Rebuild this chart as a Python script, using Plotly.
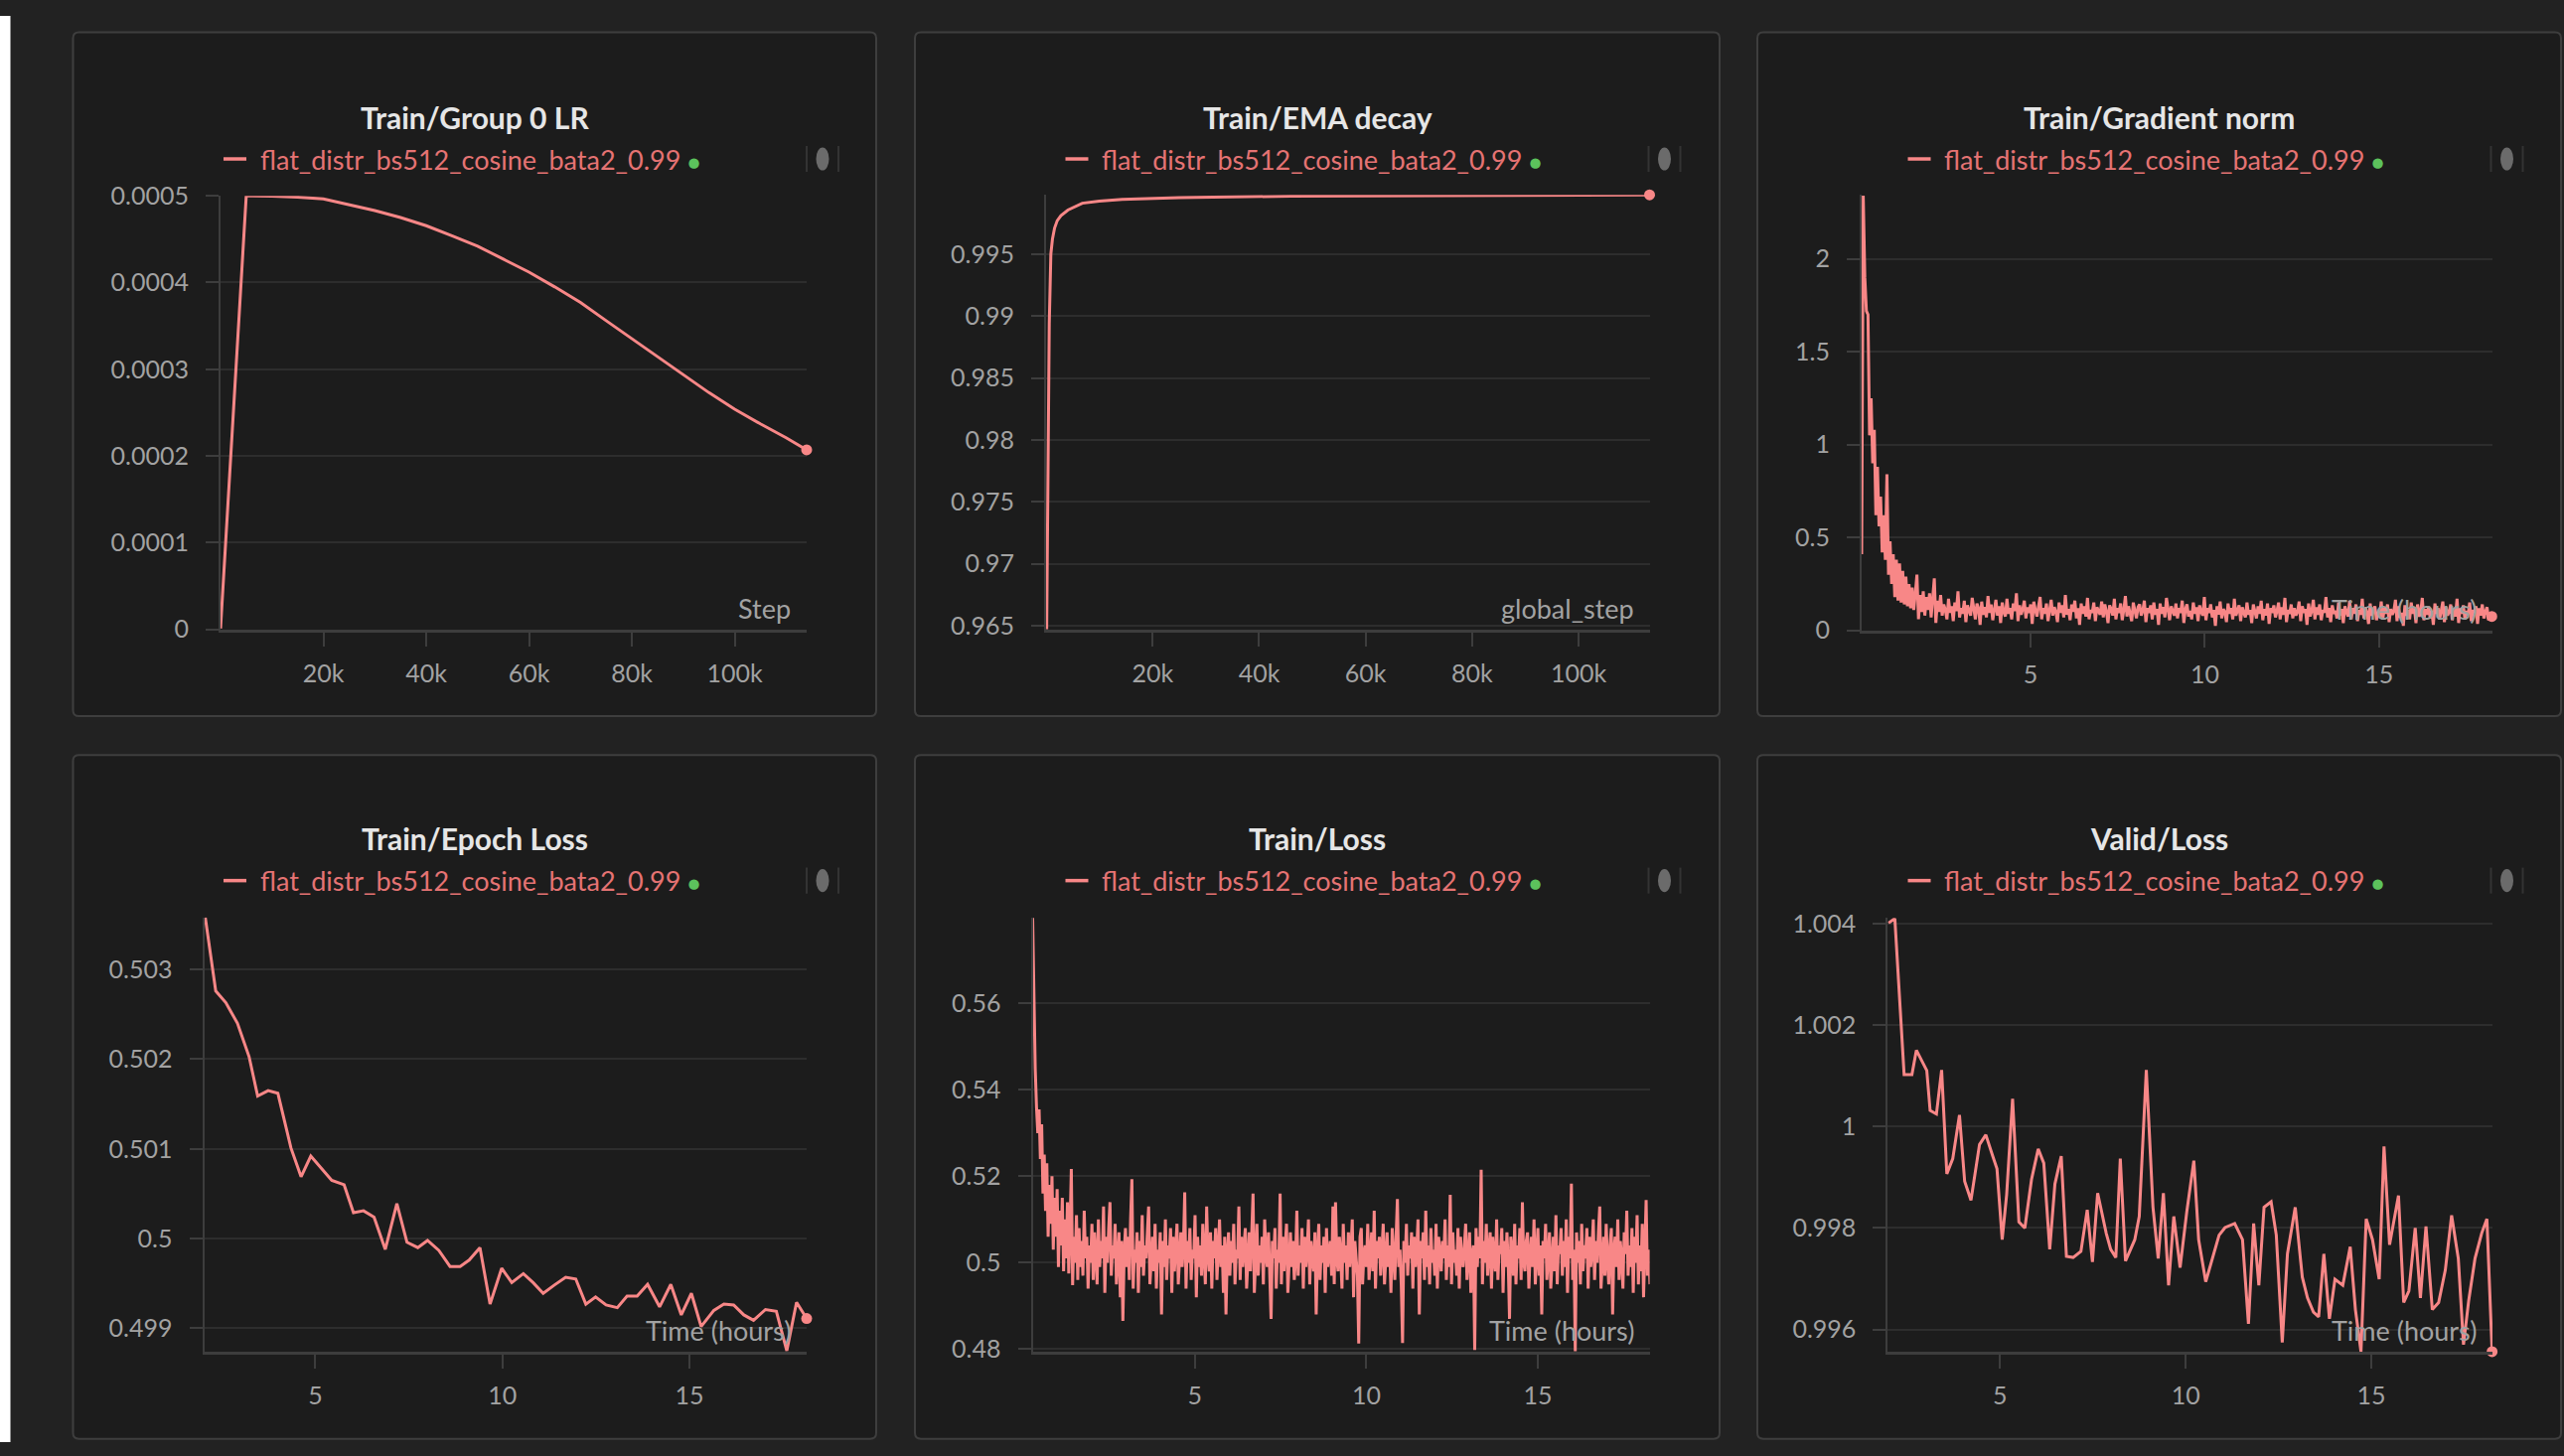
import numpy as np
import plotly.graph_objects as go

W, H = 2581, 1466
FONT = "Lato"

RUN_NAME = "flat_distr_bs512_cosine_bata2_0.99"
TITLES = ["Train/Group 0 LR", "Train/EMA decay", "Train/Gradient norm",
          "Train/Epoch Loss", "Train/Loss", "Valid/Loss"]
XTITLES = ["Step", "global_step", "Time (hours)", "Time (hours)", "Time (hours)", "Time (hours)"]

# ---------------- data ----------------
lr_step = [0, 5000, 10000, 15000, 20000, 25000, 30000, 35000, 40000, 45000, 50000, 55000,
           60000, 65000, 70000, 75000, 80000, 85000, 90000, 95000, 100000, 105000, 110000, 114000]
lr_value = [0.000001, 0.0005, 0.0004995, 0.0004985, 0.0004965, 0.000490, 0.000483, 0.000475,
            0.0004655, 0.000454, 0.000442, 0.000427, 0.000412, 0.000395, 0.000377, 0.000356,
            0.000335, 0.000314, 0.000293, 0.000273, 0.000254, 0.000237, 0.000221, 0.000207]

ema_step = [120, 400, 600, 900, 1200, 1600, 2100, 2800, 4100, 6800, 10000, 14300, 25000, 46000, 78500, 113300]
ema_value = [0.9647, 0.9782, 0.9894, 0.9950, 0.9962, 0.9971, 0.9977, 0.9981, 0.99855, 0.9991,
             0.99928, 0.99941, 0.99956, 0.99967, 0.99971, 0.99978]

# gradient norm, in units of 0.001, evenly logged between the start and end hours
grad_hours_start, grad_hours_end = 0.15, 18.24
grad_norm_milli = [
    410, 2340, 1900, 1720, 1700, 1050, 1250, 900, 1080, 620,
    880, 560, 720, 420, 620, 380, 840, 300, 480, 250,
    410, 180, 380, 160, 360, 150, 320, 140, 290, 130,
    250, 120, 230, 110, 200, 300, 60, 190, 100, 210,
    80, 180, 110, 200, 70, 170, 280, 40, 160, 100,
    190, 80, 140, 110, 60, 170, 95, 130, 50, 150, 105, 210, 70, 120,
    90, 160, 45, 135, 110, 80, 175, 100, 60, 145, 120, 30, 155, 85,
    125, 70, 185, 95, 140, 55, 115, 165, 80, 130, 40, 150, 100, 75,
    170, 90, 120, 60, 145, 105, 200, 50, 135, 85, 115, 160, 65, 125,
    95, 140, 35, 155, 110, 75, 130, 180, 60, 120, 90, 145, 50, 105,
    165, 80, 125, 100, 45, 150, 95, 135, 70, 190, 85, 115, 55, 140,
    100, 160, 65, 120, 30, 145, 90, 130, 75, 175, 60, 110, 95, 150,
    50, 125, 105, 85, 155, 70, 140, 100, 40, 135, 115, 80, 170, 60,
    120, 95, 145, 55, 110, 185, 75, 130, 90, 50, 150, 100, 65, 125,
    140, 80, 105, 160, 45, 120, 95, 135, 60, 150, 85, 115, 30, 145,
    90, 125, 70, 175, 100, 55, 130, 110, 80, 145, 65, 120, 95, 160,
    40, 115, 140, 75, 105, 60, 150, 90, 125, 50, 135, 100, 80, 180,
    55, 120, 95, 140, 70, 110, 25, 130, 85, 155, 65, 115, 100, 45,
    145, 90, 120, 60, 170, 80, 105, 135, 50, 125, 95, 70, 150, 85,
    110, 40, 140, 100, 65, 130, 90, 160, 55, 115, 80, 145, 35, 120,
    95, 135, 70, 105, 150, 60, 125, 85, 175, 45, 110, 90, 140, 65,
    120, 80, 100, 155, 50, 130, 95, 115, 30, 145, 75, 105, 165, 60,
    125, 85, 140, 55, 110, 95, 180, 70, 120, 45, 135, 90, 105, 65,
    150, 80, 115, 40, 130, 100, 75, 160, 60, 120, 90, 140, 50, 110,
    85, 170, 65, 125, 95, 35, 145, 80, 110, 130, 55, 100, 75, 155,
    60, 120, 90, 140, 45, 115, 85, 105, 165, 50, 130, 70, 95, 25,
    135, 80, 110, 60, 150, 90, 120, 40, 140, 75, 100, 175, 55, 115,
    85, 130, 65, 105, 30, 145, 90, 120, 60, 110, 155, 45, 125, 80,
    100, 140, 55, 115, 75, 170, 40, 120, 90, 135, 60, 105, 85, 150,
    50, 110, 95, 130, 35, 120, 80, 140, 65, 100, 125, 55, 90, 75,
]

epoch_hours = [2.06, 2.34, 2.61, 2.92, 3.23, 3.46, 3.74, 4.0, 4.35, 4.62,
               4.88, 5.18, 5.44, 5.77, 6.02, 6.29, 6.57, 6.87, 7.18, 7.45,
               7.74, 8.0, 8.3, 8.6, 8.87, 9.11, 9.4, 9.67, 9.98, 10.25,
               10.56, 10.82, 11.09, 11.38, 11.69, 11.96, 12.23, 12.49, 12.77, 13.07,
               13.33, 13.6, 13.88, 14.2, 14.5, 14.78, 15.05, 15.31, 15.65, 15.92,
               16.18, 16.45, 16.71, 17.03, 17.32, 17.6, 17.86, 18.13]
epoch_loss = [0.50358, 0.50276, 0.50263, 0.50240, 0.50203, 0.50159, 0.50165, 0.50162, 0.50101, 0.50069,
              0.50092, 0.50078, 0.50065, 0.50060, 0.50029, 0.50031, 0.50024, 0.49988, 0.50039, 0.49996,
              0.49990, 0.49998, 0.49987, 0.49969, 0.49969, 0.49976, 0.49990, 0.49927, 0.49967, 0.49951,
              0.49961, 0.49951, 0.49939, 0.49948, 0.49957, 0.49955, 0.49927, 0.49935, 0.49926, 0.49923,
              0.49936, 0.49936, 0.49949, 0.49924, 0.49949, 0.49915, 0.49939, 0.49902, 0.49920, 0.49927,
              0.49926, 0.49915, 0.49909, 0.49921, 0.49919, 0.49875, 0.49929, 0.49911]

# train loss, in units of 0.0001, evenly logged between the start and end hours
loss_hours_start, loss_hours_end = 0.27, 18.27
train_loss_e4 = [
    5798, 5600, 5450, 5360, 5300, 5355, 5240, 5320, 5160, 5250, 5120, 5230,
    5060, 5180, 5090, 5200, 5030, 5150, 5060, 5170, 4990, 5120, 5040, 5150,
    4980, 5100, 5010, 5140, 4975, 5080, 5217, 4948, 5060, 5000, 5110, 4960,
    5080, 4990, 5050, 4970, 5120, 5010, 5060, 4940, 5040, 5000, 5090, 4960,
    5070, 5020, 4950, 5100, 4990, 5050, 5010, 5130, 4930, 5060, 5000, 5080,
    5140, 4970, 5040, 5010, 5090, 4950, 5030, 5070, 4920, 5050, 4865, 5020,
    5080, 4990, 5060, 4960, 5100, 5193, 4940, 5030, 5000, 5070, 4930, 5050,
    4990, 5110, 4970, 5040, 5010, 5080, 5130, 4950, 5020, 5060, 4980, 5090,
    4940, 5030, 5000, 5070, 4880, 5050, 4990, 5100, 4960, 5040, 5010, 5080,
    4930, 5060, 4980, 5030, 5090, 4950, 5020, 5070, 4990, 5040, 5163, 4940,
    5050, 5000, 5080, 4960, 5030, 5010, 5110, 4920, 5060, 4990, 5040, 4970,
    5090, 5000, 4950, 5130, 5020, 4980, 5070, 4940, 5050, 5010, 5080, 4960,
    5030, 5100, 4990, 5040, 4930, 5060, 4880, 5020, 5070, 4970, 5050, 5000,
    5090, 4950, 5030, 5010, 5130, 4960, 5060, 4990, 5040, 5080, 4940, 5020,
    5070, 4980, 5050, 5160, 4930, 5010, 5090, 4970, 5040, 5000, 5060, 4950,
    5100, 5020, 4990, 5070, 4960, 4870, 5050, 5010, 5080, 4940, 5030, 5000,
    5160, 4950, 5060, 4980, 5040, 5090, 4930, 5020, 5070, 4990, 5050, 4960,
    5010, 5120, 4970, 5040, 5000, 5080, 4940, 5060, 4990, 5030, 5100, 4950,
    5050, 5010, 4980, 5070, 4880, 5020, 5090, 4960, 5040, 5000, 5060, 4930,
    5080, 4990, 5030, 5050, 4970, 5130, 4950, 5140, 5010, 4980, 5060, 5020,
    4940, 5090, 5000, 5040, 4960, 5070, 4990, 5030, 5100, 4920, 5050, 5010,
    4970, 4813, 5060, 5080, 4950, 5020, 5040, 4990, 5090, 4960, 5030, 5070,
    4980, 5120, 4940, 5050, 5010, 5060, 4970, 5030, 5090, 4950, 5000, 5070,
    4990, 5040, 4930, 5080, 5020, 4960, 5060, 5147, 4990, 5030, 4950, 4814,
    5050, 5000, 5090, 4970, 5040, 5010, 5070, 4940, 5060, 4990, 5030, 5100,
    4880, 5050, 5010, 5070, 4960, 5120, 4990, 5040, 4950, 5080, 5000, 5030,
    4970, 5090, 4940, 5060, 5020, 4980, 5050, 5010, 5100, 4960, 5040, 4990,
    5157, 4950, 5070, 5000, 5030, 4970, 5080, 4940, 5060, 5010, 4990, 5050,
    5090, 4960, 5030, 5070, 4930, 5020, 5040, 4798, 5080, 4990, 5060, 5010,
    5215, 4950, 5050, 5000, 5090, 4970, 5030, 5070, 4940, 5060, 5010, 4980,
    5100, 4960, 5040, 5020, 5080, 4930, 5050, 4990, 5070, 5000, 4870, 5060,
    5030, 4970, 5090, 4950, 5040, 5010, 5080, 4960, 5140, 5000, 4980, 5050,
    5070, 4940, 5020, 5060, 4990, 5100, 4950, 5030, 5080, 4970, 5040, 4880,
    5050, 5010, 5090, 4960, 5030, 5070, 4940, 5000, 5060, 4980, 5110, 4950,
    5040, 5020, 5080, 4970, 5050, 4990, 5100, 4930, 5060, 5010, 5183, 4960,
    5030, 4795, 5070, 5000, 5050, 4950, 5090, 4980, 5040, 5010, 5080, 4940,
    5060, 4990, 5030, 5100, 4960, 5050, 5000, 5070, 5130, 4940, 5020, 5060,
    4970, 5090, 5010, 4950, 5040, 5080, 4880, 5030, 5060, 4990, 5100, 4960,
    5050, 5010, 4940, 5070, 5020, 5120, 4970, 5040, 4990, 5080, 4930, 5060,
    5000, 5110, 4950, 5040, 4980, 5090, 4920, 5060, 5145, 4970, 5030, 4950,
]

valid_hours = [2.0, 2.17, 2.42, 2.63, 2.75, 3.03, 3.12, 3.29, 3.43, 3.57,
               3.73, 3.91, 4.05, 4.22, 4.45, 4.62, 4.81, 4.92, 5.06, 5.18,
               5.34, 5.51, 5.67, 5.85, 6.03, 6.18, 6.34, 6.48, 6.65, 6.79,
               6.97, 7.18, 7.35, 7.49, 7.63, 7.86, 7.98, 8.12, 8.24, 8.38,
               8.63, 8.75, 8.94, 9.12, 9.26, 9.4, 9.54, 9.68, 9.85, 10.03,
               10.22, 10.35, 10.54, 10.76, 10.9, 11.06, 11.32, 11.53, 11.69, 11.83,
               11.97, 12.11, 12.3, 12.44, 12.6, 12.74, 12.95, 13.14, 13.28, 13.44,
               13.58, 13.72, 13.87, 14.02, 14.23, 14.43, 14.57, 14.72, 14.86, 15.03,
               15.21, 15.34, 15.49, 15.73, 15.87, 16.01, 16.18, 16.32, 16.47, 16.64,
               16.81, 16.99, 17.16, 17.34, 17.48, 17.62, 17.79, 17.97, 18.11, 18.25]
valid_loss = [1.00402, 1.00411, 1.00103, 1.00103, 1.00151, 1.00111, 1.00032, 1.00025, 1.00112, 0.99907,
              0.99937, 1.00023, 0.99892, 0.99855, 0.99965, 0.99984, 0.99941, 0.99917, 0.99777, 0.99866,
              1.00055, 0.99812, 0.99800, 0.99896, 0.99956, 0.99928, 0.99758, 0.99887, 0.99942, 0.99744,
              0.99742, 0.99754, 0.99836, 0.99733, 0.99869, 0.99790, 0.99758, 0.99742, 0.99937, 0.99735,
              0.99777, 0.99823, 1.00112, 0.99841, 0.99740, 0.99869, 0.99687, 0.99823, 0.99722, 0.99832,
              0.99933, 0.99777, 0.99694, 0.99749, 0.99786, 0.99801, 0.99809, 0.99777, 0.99611, 0.99809,
              0.99687, 0.99841, 0.99852, 0.99786, 0.99574, 0.99749, 0.99841, 0.99703, 0.99662, 0.99634,
              0.99625, 0.99749, 0.99621, 0.99699, 0.99687, 0.99763, 0.99639, 0.99556, 0.99818, 0.99777,
              0.99699, 0.99961, 0.99767, 0.99864, 0.99653, 0.99676, 0.99800, 0.99662, 0.99803, 0.99639,
              0.99653, 0.99717, 0.99825, 0.99740, 0.99570, 0.99657, 0.99740, 0.99790, 0.99818, 0.99556]

# tick values / labels
step_ticks = [20000, 40000, 60000, 80000, 100000]
step_ticktext = ["20k", "40k", "60k", "80k", "100k"]
hour_ticks = [5, 10, 15]
hour_ticktext = ["5", "10", "15"]
lr_yticks = [0, 0.0001, 0.0002, 0.0003, 0.0004, 0.0005]
lr_yticktext = ["0", "0.0001", "0.0002", "0.0003", "0.0004", "0.0005"]
ema_yticks = [0.965, 0.97, 0.975, 0.98, 0.985, 0.99, 0.995]
ema_yticktext = ["0.965", "0.97", "0.975", "0.98", "0.985", "0.99", "0.995"]
grad_yticks = [0, 0.5, 1, 1.5, 2]
grad_yticktext = ["0", "0.5", "1", "1.5", "2"]
epoch_yticks = [0.499, 0.5, 0.501, 0.502, 0.503]
epoch_yticktext = ["0.499", "0.5", "0.501", "0.502", "0.503"]
loss_yticks = [0.48, 0.5, 0.52, 0.54, 0.56]
loss_yticktext = ["0.48", "0.5", "0.52", "0.54", "0.56"]
valid_yticks = [0.996, 0.998, 1.0, 1.002, 1.004]
valid_yticktext = ["0.996", "0.998", "1", "1.002", "1.004"]

# ---------------- styling ----------------
LINE = "#f88787"
LEG_TEXT = "#e57373"
GREEN = "#5cc25c"
PAGE_BG = "#222222"
PANEL_BG = "#1c1c1c"
PANEL_BORDER = "#3e3e3e"
GRID = "#2d2d2d"
AXIS = "#3d3d3d"
TICK_TXT = "#a2a2a2"
TITLE_TXT = "#e6e6e6"

# the photographed page comes out vertically squeezed (scale ~0.976, offset ~17.5px);
# layout pixel positions below are given in target-picture pixels and mapped through this.
V_SCALE, V_OFF = 0.976, 17.5


def fx(px):
    return px / W


def page_y(py):
    return (py - V_OFF) / V_SCALE


def fy(py):
    return 1 - page_y(py) / H


grad_norm = np.array(grad_norm_milli) / 1000.0
train_loss = np.array(train_loss_e4) / 10000.0
grad_hours = np.linspace(grad_hours_start, grad_hours_end, len(grad_norm))
loss_hours = np.linspace(loss_hours_start, loss_hours_end, len(train_loss))

series = [
    (lr_step, lr_value, [0, 114000], [0, 0.0005], step_ticks, step_ticktext, lr_yticks, lr_yticktext, 3),
    (ema_step, ema_value, [0, 113300], [0.9647, 0.99978], step_ticks, step_ticktext, ema_yticks, ema_yticktext, 3),
    (grad_hours, grad_norm, [0.15, 18.26], [0, 2.345], hour_ticks, hour_ticktext, grad_yticks, grad_yticktext, 3),
    (epoch_hours, epoch_loss, [2.03, 18.13], [0.49874, 0.50358], hour_ticks, hour_ticktext, epoch_yticks, epoch_yticktext, 3),
    (loss_hours, train_loss, [0.27, 18.26], [0.4794, 0.5799], hour_ticks, hour_ticktext, loss_yticks, loss_yticktext, 3),
    (valid_hours, valid_loss, [1.98, 18.26], [0.99556, 1.00412], hour_ticks, hour_ticktext, valid_yticks, valid_yticktext, 3),
]

# panel boxes (pixels): left, top, right, bottom
panel_cols = [(73.5, 882), (921, 1731), (1769, 2578)]
panel_rows = [(34, 720), (759, 1445)]
# plot areas (pixels): x0, x1, ytop, ybottom
plot_areas = [
    (222, 812, 198, 633),
    (1053, 1660.5, 197, 633),
    (1874, 2509, 197, 634),
    (205.5, 812, 922, 1357.6),
    (1039.5, 1660.6, 922, 1357.6),
    (1900.3, 2509, 922.5, 1357.6),
]

fig = go.Figure()
shapes = []
annotations = []

# white screenshot strip on the left edge
shapes.append(dict(type="rect", xref="paper", yref="paper", x0=0, x1=fx(10.5), y0=0, y1=1,
                   fillcolor="white", line=dict(width=0), layer="below"))


def rounded_path(l, t, r, b, rad=6):
    xl, xr = fx(l), fx(r)
    yt, yb = fy(t), fy(b)
    rx, ry = rad / W, rad / H
    return (f"M {xl+rx},{yt} L {xr-rx},{yt} Q {xr},{yt} {xr},{yt-ry} "
            f"L {xr},{yb+ry} Q {xr},{yb} {xr-rx},{yb} L {xl+rx},{yb} "
            f"Q {xl},{yb} {xl},{yb+ry} L {xl},{yt-ry} Q {xl},{yt} {xl+rx},{yt} Z")


layout_axes = {}
for i, (xs, ys, xr, yr, xtv, xtt, ytv, ytt, lw) in enumerate(series):
    k = i + 1
    row, col = divmod(i, 3)
    pl, pr = panel_cols[col]
    pt, pb = panel_rows[row]
    shapes.append(dict(type="path", xref="paper", yref="paper", path=rounded_path(pl, pt, pr, pb),
                       fillcolor=PANEL_BG, line=dict(color=PANEL_BORDER, width=2), layer="below"))

    x0, x1, yt, yb = plot_areas[i]
    xa = "x" if k == 1 else f"x{k}"
    ya = "y" if k == 1 else f"y{k}"
    fig.add_trace(go.Scatter(x=xs, y=ys, mode="lines", line=dict(color=LINE, width=lw),
                             xaxis=xa, yaxis=ya, showlegend=False, hoverinfo="skip"))
    fig.add_trace(go.Scatter(x=[xs[-1]], y=[ys[-1]], mode="markers",
                             marker=dict(color=LINE, size=11), cliponaxis=False,
                             xaxis=xa, yaxis=ya, showlegend=False, hoverinfo="skip"))

    xkey = "xaxis" if k == 1 else f"xaxis{k}"
    ykey = "yaxis" if k == 1 else f"yaxis{k}"
    layout_axes[xkey] = dict(
        domain=[fx(x0), fx(x1)], range=xr, anchor=ya, showgrid=False, zeroline=False,
        showline=True, linecolor=AXIS, linewidth=3, ticks="outside", ticklen=14, tickwidth=2,
        tickcolor=AXIS, tickvals=xtv, ticktext=xtt, ticklabelstandoff=6,
        tickfont=dict(family=FONT, size=25, color=TICK_TXT), fixedrange=True)
    layout_axes[ykey] = dict(
        domain=[fy(yb), fy(yt)], range=yr, anchor=xa, showgrid=True, gridcolor=GRID, gridwidth=2,
        zeroline=False, showline=True, linecolor=AXIS, linewidth=2, ticks="outside", ticklen=13,
        tickwidth=2, tickcolor=AXIS, tickvals=ytv, ticktext=ytt, ticklabelstandoff=12,
        tickfont=dict(family=FONT, size=25, color=TICK_TXT), fixedrange=True)

    # title
    annotations.append(dict(text=f"<b>{TITLES[i]}</b>", xref="paper", yref="paper",
                            x=fx((pl + pr) / 2), y=fy(pt + (85 if row == 0 else 84)),
                            xanchor="center", yanchor="middle", showarrow=False,
                            font=dict(family=FONT, size=30, color=TITLE_TXT)))
    # legend
    ly = pt + (127 if row == 0 else 126)
    shapes.append(dict(type="line", xref="paper", yref="paper", x0=fx(pl + 151.5), x1=fx(pl + 174.5),
                       y0=fy(ly), y1=fy(ly), line=dict(color=LINE, width=3.5)))
    annotations.append(dict(text=RUN_NAME + f" <span style='color:{GREEN};font-size:21px'>●</span>",
                            xref="paper", yref="paper", x=fx(pl + 186), y=fy(ly),
                            xanchor="left", yanchor="middle", showarrow=False,
                            font=dict(family=FONT, size=27, color=LEG_TEXT)))
    # gray icon
    cx = pl + 754.5
    shapes.append(dict(type="circle", xref="paper", yref="paper", x0=fx(cx - 6.5), x1=fx(cx + 6.5),
                       y0=fy(ly + 11.5), y1=fy(ly - 11.5), fillcolor="#6b6b6b", line=dict(width=0)))
    for dx in (-16, 16):
        shapes.append(dict(type="line", xref="paper", yref="paper", x0=fx(cx + dx), x1=fx(cx + dx),
                           y0=fy(ly + 13), y1=fy(ly - 13), line=dict(color="#333333", width=2)))
    # axis title
    annotations.append(dict(text=XTITLES[i], xref="paper", yref="paper",
                            x=fx(x1 - 14), y=fy(yb - 21), xanchor="right", yanchor="middle",
                            showarrow=False, font=dict(family=FONT, size=27, color=TICK_TXT)))

fig.update_layout(
    width=W, height=H, margin=dict(l=0, r=0, t=0, b=0),
    paper_bgcolor=PAGE_BG, plot_bgcolor="rgba(0,0,0,0)",
    shapes=shapes, annotations=annotations, showlegend=False,
    font=dict(family=FONT), **layout_axes,
)

fig.write_html(
    "out.html",
    config={"displayModeBar": False},
    post_script=("document.body.style.margin='0';document.body.style.padding='0';"
                 "document.body.style.overflow='hidden';"
                 "document.documentElement.style.overflow='hidden';"),
)
